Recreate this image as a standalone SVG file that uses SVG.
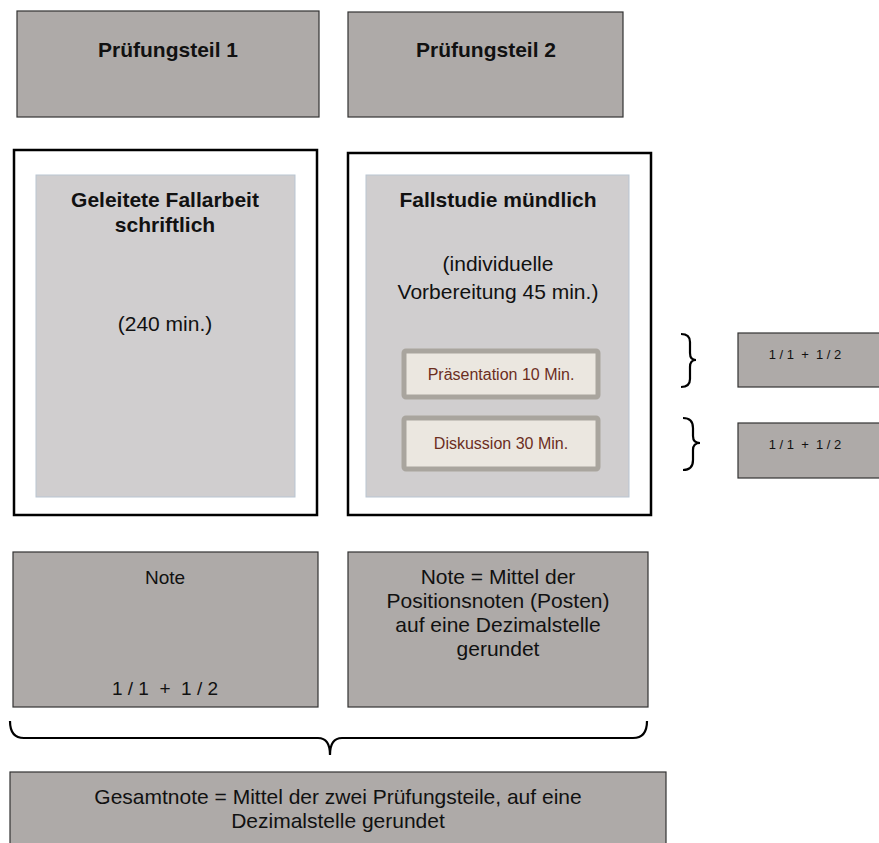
<svg xmlns="http://www.w3.org/2000/svg" width="879" height="843" viewBox="0 0 879 843">
<style>
.gray{fill:#aeaaa8;stroke:#333;stroke-width:1.2}
.frame{fill:#fff;stroke:#000;stroke-width:2.5}
.inner{fill:#d0cecf;stroke:#b9c5d2;stroke-width:1}
.sub{fill:#ebe7e0;stroke:#a9a59e;stroke-width:5}
.brace{fill:none;stroke:#000;stroke-width:2.2}
text{font-family:"Liberation Sans",Arial,sans-serif;fill:#111;text-anchor:middle}
.b{font-weight:bold;font-size:21px}
.r{font-size:21px}
.n{font-size:21px}
.m{font-size:19px}
.s{font-size:16px;fill:#6b2e1e}
.t{font-size:13px}
</style>
<g id="pt1"><rect class="gray" x="17" y="11" width="302" height="106"/><text class="b" x="168" y="57">Prüfungsteil 1</text></g>
<g id="pt2"><rect class="gray" x="348" y="12" width="275" height="105"/><text class="b" x="486" y="57">Prüfungsteil 2</text></g>
<g id="frame1"><rect class="frame" x="14" y="150" width="303" height="365"/>
<rect class="inner" x="36" y="175" width="259" height="322"/>
<text class="b" x="165" y="207">Geleitete Fallarbeit</text>
<text class="b" x="165" y="232">schriftlich</text>
<text class="r" x="165" y="331">(240 min.)</text></g>
<g id="frame2"><rect class="frame" x="348" y="153" width="303" height="362"/>
<rect class="inner" x="366" y="175" width="263" height="322"/>
<text class="b" x="498" y="207">Fallstudie mündlich</text>
<text class="r" x="498" y="271">(individuelle</text>
<text class="r" x="498" y="299">Vorbereitung 45 min.)</text></g>
<g id="praes"><rect class="sub" x="404" y="351" width="194" height="46" rx="2"/><text class="s" x="501" y="380">Präsentation 10 Min.</text></g>
<g id="disk"><rect class="sub" x="404" y="418" width="194" height="51" rx="2"/><text class="s" x="501" y="449">Diskussion 30 Min.</text></g>
<g id="r1"><rect class="gray" x="738" y="333" width="145" height="54"/><text class="t" x="805" y="359" xml:space="preserve">1 / 1  +  1 / 2</text></g>
<g id="r2"><rect class="gray" x="738" y="423" width="145" height="55"/><text class="t" x="805" y="449" xml:space="preserve">1 / 1  +  1 / 2</text></g>
<g id="note1"><rect class="gray" x="13" y="552" width="305" height="155"/>
<text class="m" x="165" y="584">Note</text>
<text class="m" x="165" y="695" xml:space="preserve">1 / 1  +  1 / 2</text></g>
<g id="note2"><rect class="gray" x="348" y="552" width="300" height="155"/>
<text class="n" x="498" y="584">Note = Mittel der</text>
<text class="n" x="498" y="608">Positionsnoten (Posten)</text>
<text class="n" x="498" y="632">auf eine Dezimalstelle</text>
<text class="n" x="498" y="656">gerundet</text></g>
<g id="gesamt"><rect class="gray" x="10" y="772" width="656" height="80"/>
<text class="n" x="338" y="804">Gesamtnote = Mittel der zwei Prüfungsteile, auf eine</text>
<text class="n" x="338" y="828">Dezimalstelle gerundet</text></g>
<g id="connectors">
<path class="brace" d="M681,334 Q690,334 690,342 L690,353 Q690,360 696,360 Q690,360 690,367 L690,379 Q690,387 681,387"/>
<path class="brace" d="M683,418 Q693,418 693,428 L693,436 Q693,443 700,443 Q693,443 693,450 L693,460 Q693,470 683,470"/>
<path class="brace" d="M10,721 Q10,738 24,738 L318,738 Q330,738 330,755 Q330,738 342,738 L633,738 Q647,738 647,721"/>
</g>
</svg>
